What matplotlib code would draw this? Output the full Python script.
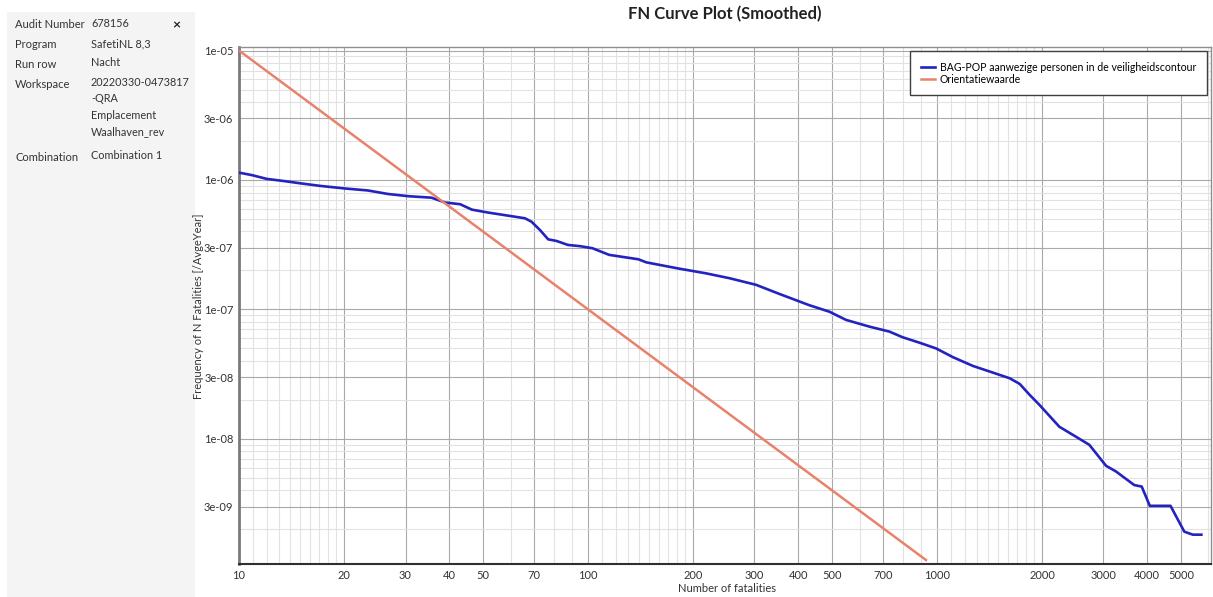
import matplotlib
matplotlib.use("Agg")
import matplotlib.pyplot as plt
from matplotlib.patches import Rectangle
from matplotlib.ticker import FixedLocator, NullFormatter

# blue FN curve
bag_n = [10, 10.9, 12.0, 13.5, 15.1, 17.1, 20.1, 23.4, 26.7, 30.5, 35.6, 39.0, 43.0,
         46.5, 51.8, 59.1, 66.0, 68.9, 72.9, 76.9, 81.3, 87.6, 95, 103, 115, 139.5,
         147, 180, 218, 255, 303, 353, 430, 492, 549, 640, 731, 797, 890, 994, 1113,
         1268, 1447, 1616, 1726, 1843, 1967, 2243, 2501, 2733, 3051, 3259, 3675,
         3862, 4073, 4670, 5114, 5410, 5724]
bag_f = [1.14e-6, 1.09e-6, 1.02e-6, 9.8e-7, 9.4e-7, 9.0e-7, 8.6e-7, 8.3e-7, 7.8e-7,
         7.5e-7, 7.3e-7, 6.7e-7, 6.5e-7, 5.9e-7, 5.6e-7, 5.3e-7, 5.06e-7, 4.76e-7,
         4.1e-7, 3.48e-7, 3.38e-7, 3.15e-7, 3.08e-7, 2.97e-7, 2.64e-7, 2.44e-7,
         2.31e-7, 2.08e-7, 1.9e-7, 1.74e-7, 1.55e-7, 1.32e-7, 1.08e-7, 9.6e-8,
         8.3e-8, 7.37e-8, 6.74e-8, 6.1e-8, 5.54e-8, 5.0e-8, 4.27e-8, 3.66e-8,
         3.25e-8, 2.94e-8, 2.66e-8, 2.19e-8, 1.83e-8, 1.24e-8, 1.04e-8, 9.0e-9,
         6.2e-9, 5.6e-9, 4.4e-9, 4.28e-9, 3.04e-9, 3.04e-9, 1.92e-9, 1.82e-9, 1.82e-9]

# orientatiewaarde line
ori_n = [10, 930]
ori_f = [1e-5, 1.16e-9]

series_labels = ["BAG-POP aanwezige personen in de veiligheidscontour", "Orientatiewaarde"]

xtick_vals = [10, 20, 30, 40, 50, 70, 100, 200, 300, 400, 500, 700, 1000, 2000, 3000, 4000, 5000]
xtick_labels = [str(v) for v in xtick_vals]
ytick_vals = [1e-5, 3e-6, 1e-6, 3e-7, 1e-7, 3e-8, 1e-8, 3e-9]
ytick_labels = ["1e-05", "3e-06", "1e-06", "3e-07", "1e-07", "3e-08", "1e-08", "3e-09"]

info_keys = ["Audit Number", "Program", "Run row", "Workspace", "Combination"]
info_vals = ["678156", "SafetiNL 8,3", "Nacht",
             "20220330-0473817\n-QRA\nEmplacement\nWaalhaven_rev", "Combination 1"]

plt.rcParams['font.family'] = ['Lato', 'DejaVu Sans']

W, H = 1213, 597
fig = plt.figure(figsize=(W / 100, H / 100), dpi=100)

# left info panel
fig.patches.append(Rectangle((7 / W, 0), (195 - 7) / W, 1 - 12 / H, transform=fig.transFigure,
                             facecolor="#f4f4f4", edgecolor="none", zorder=0))
row_y = [25, 45, 64, 84, 157]
for key, val, y in zip(info_keys, info_vals, row_y):
    fig.text(15 / W, 1 - y / H, key, fontsize=8, color="#333333", va="center")
    fig.text(91 / W, 1 - (y - 7) / H, val, fontsize=7.8, color="#333333", va="top",
             linespacing=1.6)
fig.text(176 / W, 1 - 25 / H, "\u00d7", fontsize=10, color="#222222", va="center", ha="center",
         fontweight="bold")

ax = fig.add_axes([239 / W, 1 - 564 / H, (1211 - 239) / W, (564 - 47) / H])
ax.set_xscale("log")
ax.set_yscale("log")

ax.plot(bag_n, bag_f, color="#2323c0", lw=1.9, label=series_labels[0], zorder=3)
ax.plot(ori_n, ori_f, color="#e8826c", lw=1.8, label=series_labels[1], zorder=3)

ax.set_xlim(10, 6100)
ax.set_ylim(1.08e-9, 1.065e-5)

# grid structure like the original: fine lines in 1..2 and at 6,8,9
x_minor = []
for d in [10, 100, 1000]:
    x_minor += [d * (1 + k / 10) for k in range(1, 10)]
    x_minor += [d * m for m in (6, 8, 9)]
y_minor = []
for e in range(-10, -4):
    y_minor += [m * 10.0 ** e for m in (2, 4, 5, 6, 7, 8, 9)]

ax.xaxis.set_major_locator(FixedLocator(xtick_vals))
ax.set_xticklabels(xtick_labels)
ax.xaxis.set_minor_locator(FixedLocator(x_minor))
ax.xaxis.set_minor_formatter(NullFormatter())
ax.yaxis.set_major_locator(FixedLocator(ytick_vals))
ax.set_yticklabels(ytick_labels)
ax.yaxis.set_minor_locator(FixedLocator(y_minor))
ax.yaxis.set_minor_formatter(NullFormatter())

ax.grid(which="major", color="#a9a9a9", lw=0.8)
ax.grid(which="minor", color="#e2e2e2", lw=0.8)
ax.set_axisbelow(True)
ax.tick_params(which="both", length=0, labelsize=8, colors="#333333", pad=4)

ax.spines["left"].set_color("#7a7a7a")
ax.spines["left"].set_linewidth(2)
ax.spines["bottom"].set_color("#303030")
ax.spines["bottom"].set_linewidth(1.5)
for s in ("top", "right"):
    ax.spines[s].set_color("#8f8f8f")
    ax.spines[s].set_linewidth(1)

leg = ax.legend(loc="upper right", fontsize=7.6, frameon=True, fancybox=False,
                edgecolor="#404040", framealpha=1, handlelength=1.3, handletextpad=0.5,
                labelspacing=0.1, borderpad=1.0, borderaxespad=0.4)
leg.get_frame().set_linewidth(1)

fig.text(725 / W, 1 - 14 / H, "FN Curve Plot (Smoothed)", fontsize=12, fontweight="bold",
         ha="center", va="center", color="#222222")
fig.text(198 / W, 1 - 306 / H, "Frequency of N Fatalities [/AvgeYear]", fontsize=8,
         rotation=90, ha="center", va="center", color="#333333")
fig.text(727 / W, 1 - 588 / H, "Number of fatalities", fontsize=8, ha="center", va="center",
         color="#333333")

fig.savefig("out.png", dpi=100)
